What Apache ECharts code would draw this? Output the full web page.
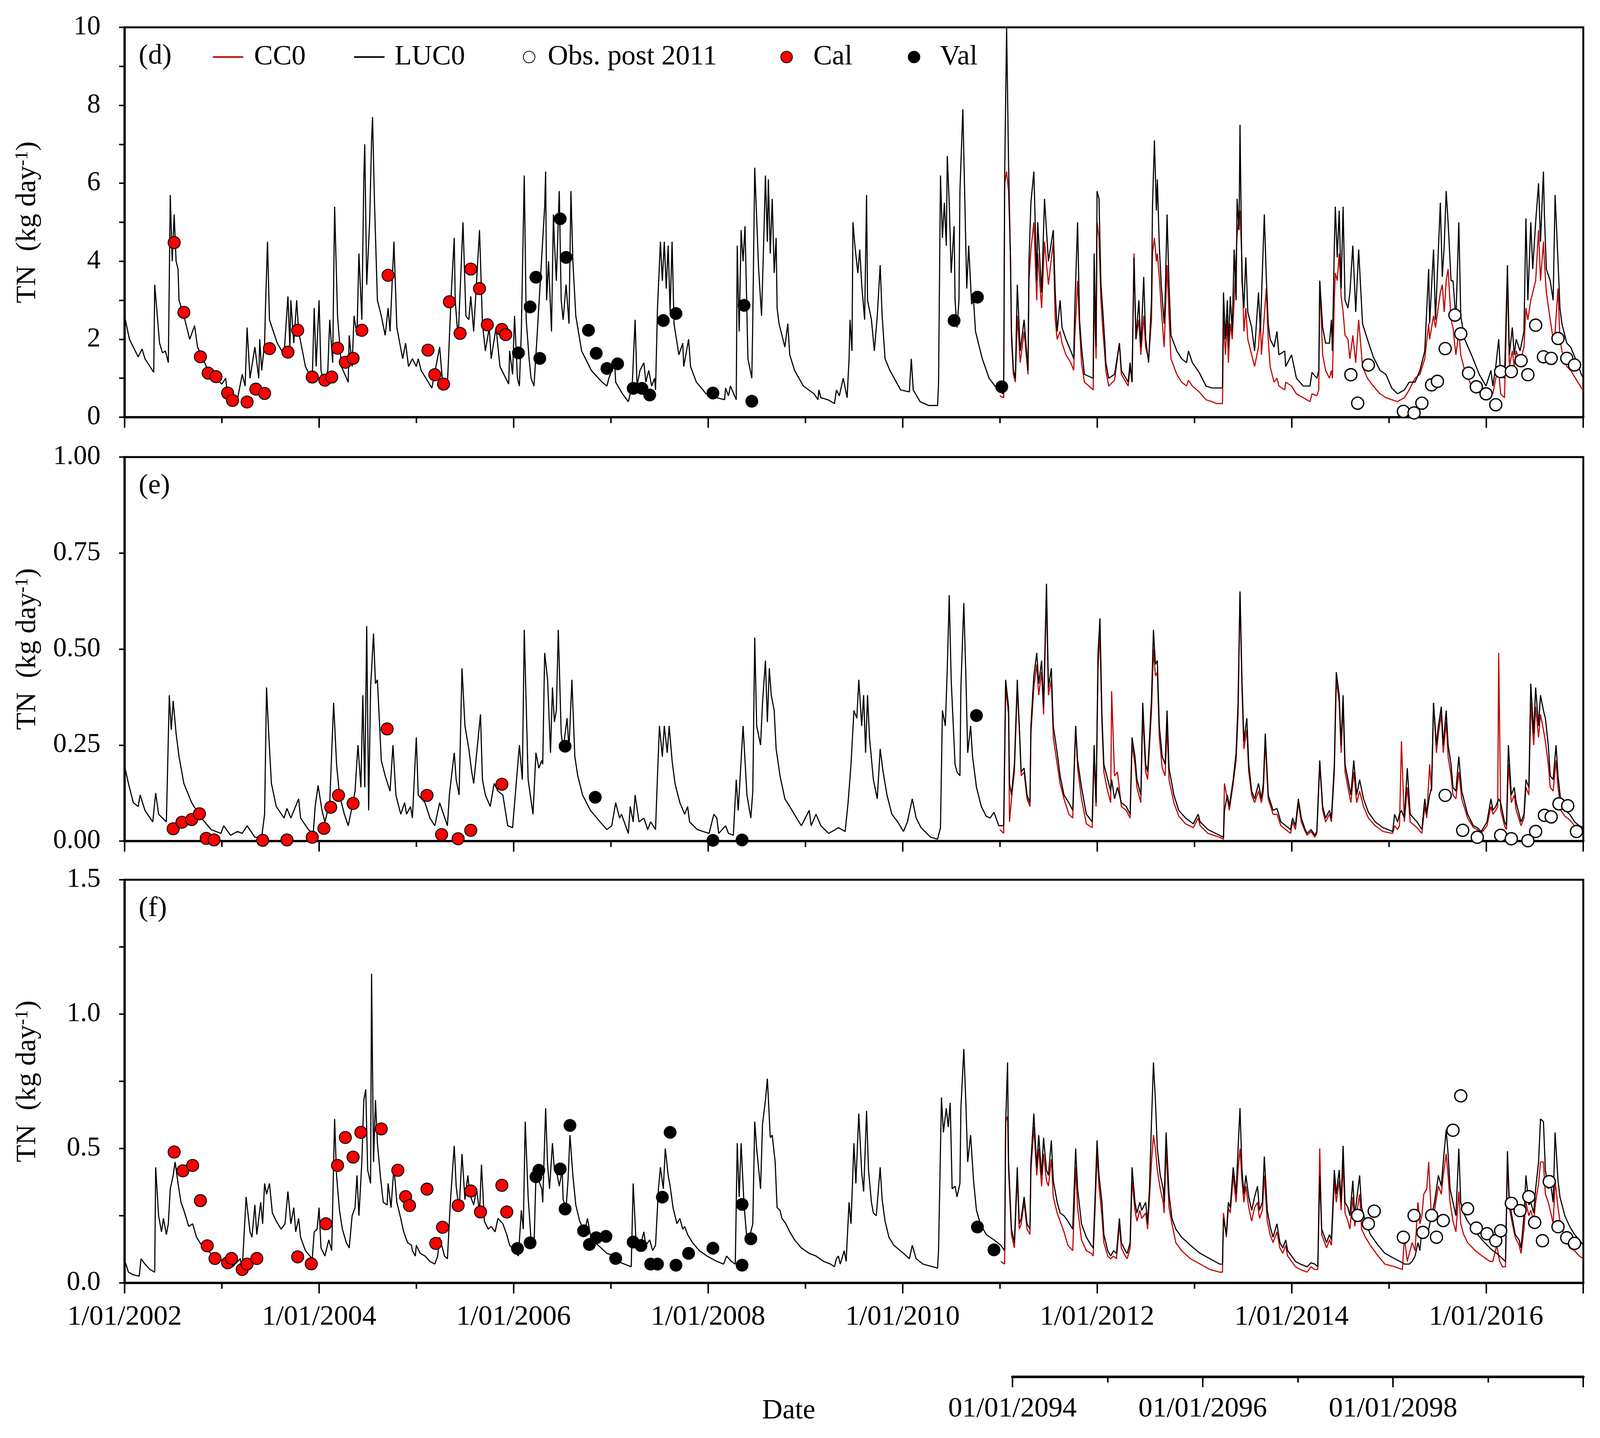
<!DOCTYPE html>
<html>
<head>
<meta charset="utf-8">
<title>TN load</title>
<script src="https://cdn.jsdelivr.net/npm/echarts@6.0.0/dist/echarts.min.js"></script>
<style>
*{ margin:0; padding:0; }
html, body{ width:100%; height:100%; overflow:hidden; background:#fff; }
#chart{ width:100vw; height:100vh; }
</style>
</head>
<body>
<div id="chart"></div>
<script>
// [decimal year, TN kg/day]
// panel (d)
var lucD = [[2002.00,2.6],[2002.05,2.0],[2002.14,1.55],[2002.18,1.75],[2002.21,1.5],[2002.30,1.15],[2002.31,3.4],[2002.36,1.9],[2002.39,1.65],[2002.42,1.7],[2002.45,1.4],[2002.47,5.7],[2002.49,4.0],[2002.51,5.2],[2002.53,4.0],[2002.55,3.8],[2002.56,3.0],[2002.61,2.6],[2002.67,2.0],[2002.72,2.35],[2002.75,1.8],[2002.86,1.2],[2003.00,0.85],[2003.04,1.0],[2003.05,0.75],[2003.16,0.45],[2003.21,1.1],[2003.24,0.8],[2003.26,2.3],[2003.29,1.0],[2003.34,1.8],[2003.38,1.0],[2003.39,2.0],[2003.41,1.2],[2003.44,1.9],[2003.45,2.9],[2003.47,4.5],[2003.49,2.5],[2003.57,1.9],[2003.64,1.6],[2003.68,3.1],[2003.70,1.8],[2003.71,3.0],[2003.74,1.9],[2003.77,3.0],[2003.79,2.2],[2003.86,1.3],[2003.93,0.95],[2003.95,2.8],[2003.97,1.3],[2004.00,3.0],[2004.02,1.2],[2004.05,0.9],[2004.09,1.2],[2004.11,2.5],[2004.14,1.4],[2004.16,5.4],[2004.19,2.6],[2004.23,1.3],[2004.30,0.9],[2004.31,2.1],[2004.34,1.3],[2004.36,2.6],[2004.39,2.1],[2004.41,4.2],[2004.44,2.5],[2004.46,6.1],[2004.47,7.0],[2004.49,3.4],[2004.52,5.0],[2004.54,7.1],[2004.55,7.7],[2004.57,5.5],[2004.60,3.0],[2004.64,2.6],[2004.68,2.1],[2004.71,2.8],[2004.73,2.2],[2004.77,4.5],[2004.80,2.3],[2004.86,1.5],[2004.89,1.9],[2004.92,1.3],[2004.96,1.5],[2005.00,1.3],[2005.02,1.5],[2005.05,1.2],[2005.16,0.75],[2005.24,1.8],[2005.27,0.9],[2005.32,0.85],[2005.36,3.2],[2005.39,4.6],[2005.40,3.0],[2005.43,2.0],[2005.48,5.0],[2005.51,2.6],[2005.54,2.5],[2005.56,3.1],[2005.59,2.2],[2005.65,4.8],[2005.68,2.4],[2005.71,1.7],[2005.75,2.3],[2005.77,1.5],[2005.82,2.3],[2005.86,1.3],[2005.95,0.85],[2005.96,1.7],[2005.99,1.1],[2006.01,2.6],[2006.04,1.0],[2006.06,0.8],[2006.08,2.2],[2006.11,6.2],[2006.13,2.5],[2006.16,1.5],[2006.18,1.0],[2006.21,0.8],[2006.24,2.0],[2006.32,5.4],[2006.33,6.3],[2006.34,3.0],[2006.36,4.0],[2006.39,2.2],[2006.41,5.2],[2006.42,4.5],[2006.44,3.5],[2006.47,5.8],[2006.49,3.0],[2006.51,2.5],[2006.54,3.4],[2006.57,2.4],[2006.59,5.8],[2006.61,4.0],[2006.64,2.6],[2006.70,1.7],[2006.80,1.2],[2006.91,0.9],[2006.96,0.8],[2006.98,1.0],[2007.04,1.4],[2007.05,0.9],[2007.12,0.6],[2007.18,0.4],[2007.22,0.8],[2007.25,2.5],[2007.27,0.8],[2007.30,1.2],[2007.34,1.4],[2007.36,0.9],[2007.39,1.2],[2007.42,0.8],[2007.45,1.0],[2007.46,0.7],[2007.48,2.8],[2007.51,4.5],[2007.53,3.5],[2007.55,4.5],[2007.57,3.3],[2007.59,4.4],[2007.61,2.7],[2007.63,4.5],[2007.65,2.4],[2007.70,1.6],[2007.74,1.9],[2007.75,1.3],[2007.80,2.0],[2007.82,1.3],[2007.88,0.9],[2007.98,0.6],[2008.09,0.5],[2008.17,0.45],[2008.18,0.75],[2008.21,0.55],[2008.23,0.8],[2008.29,0.45],[2008.30,4.4],[2008.32,2.2],[2008.34,4.8],[2008.36,4.0],[2008.38,4.9],[2008.41,1.5],[2008.45,1.0],[2008.46,2.5],[2008.48,6.4],[2008.52,3.8],[2008.55,2.6],[2008.57,4.3],[2008.59,6.2],[2008.61,4.5],[2008.62,6.1],[2008.64,4.2],[2008.66,5.6],[2008.68,3.7],[2008.70,4.6],[2008.71,2.8],[2008.73,2.4],[2008.77,2.0],[2008.79,1.8],[2008.82,2.4],[2008.84,1.6],[2008.89,1.2],[2008.98,0.8],[2009.09,0.6],[2009.13,0.45],[2009.14,0.7],[2009.16,0.5],[2009.23,0.45],[2009.30,0.35],[2009.32,0.7],[2009.35,0.55],[2009.39,1.0],[2009.43,0.5],[2009.45,1.5],[2009.46,2.5],[2009.48,1.7],[2009.49,5.0],[2009.51,4.4],[2009.54,3.7],[2009.56,4.3],[2009.58,3.4],[2009.61,2.5],[2009.63,5.7],[2009.64,3.0],[2009.68,2.5],[2009.71,1.7],[2009.74,2.6],[2009.77,3.9],[2009.79,2.6],[2009.82,1.5],[2009.87,1.2],[2009.98,0.7],[2010.07,0.65],[2010.09,1.5],[2010.11,0.7],[2010.18,0.4],[2010.27,0.3],[2010.36,0.3],[2010.37,0.85],[2010.39,6.2],[2010.41,4.6],[2010.43,5.5],[2010.45,4.4],[2010.46,6.7],[2010.48,5.5],[2010.50,3.7],[2010.53,4.9],[2010.54,3.0],[2010.56,2.3],[2010.58,3.0],[2010.59,5.8],[2010.62,7.9],[2010.64,5.6],[2010.66,3.3],[2010.68,4.4],[2010.71,2.9],[2010.73,3.0],[2010.75,2.2],[2010.82,1.5],[2010.89,1.0],[2010.95,0.8],[2011.00,0.65],[2011.04,0.6],[2011.05,6.2],[2011.07,10],[2011.09,6.5],[2011.11,4.0],[2011.12,2.2],[2011.14,1.2],[2011.16,1.0],[2011.18,3.4],[2011.21,1.7],[2011.25,2.5],[2011.29,1.2],[2011.30,4.0],[2011.32,5.5],[2011.35,6.3],[2011.38,3.5],[2011.39,5.0],[2011.43,3.2],[2011.46,5.6],[2011.50,4.0],[2011.55,4.8],[2011.57,3.2],[2011.59,2.2],[2011.62,3.0],[2011.64,2.3],[2011.68,2.0],[2011.73,1.7],[2011.76,1.5],[2011.77,2.7],[2011.80,5.0],[2011.82,2.5],[2011.84,1.8],[2011.87,1.1],[2011.96,1.0],[2011.97,4.2],[2011.99,1.8],[2012.00,5.8],[2012.02,5.6],[2012.04,3.4],[2012.06,2.7],[2012.08,1.9],[2012.09,1.4],[2012.12,1.0],[2012.18,1.1],[2012.23,1.9],[2012.25,1.2],[2012.32,0.9],[2012.34,1.4],[2012.36,0.9],[2012.38,4.1],[2012.40,2.0],[2012.43,3.0],[2012.45,1.8],[2012.48,3.6],[2012.50,2.0],[2012.53,1.4],[2012.56,3.0],[2012.57,5.4],[2012.59,7.1],[2012.61,5.3],[2012.62,6.1],[2012.64,4.4],[2012.66,3.4],[2012.69,2.4],[2012.70,3.0],[2012.72,5.2],[2012.74,3.4],[2012.76,2.1],[2012.82,1.7],[2012.87,1.5],[2012.92,1.4],[2012.94,1.7],[2012.98,1.4],[2013.05,1.15],[2013.12,0.8],[2013.18,0.75],[2013.29,0.75],[2013.30,3.2],[2013.32,2.0],[2013.34,3.0],[2013.35,1.8],[2013.37,3.1],[2013.39,2.2],[2013.41,4.3],[2013.43,3.0],[2013.44,5.6],[2013.46,4.8],[2013.47,7.5],[2013.49,3.5],[2013.51,2.8],[2013.53,4.1],[2013.55,2.7],[2013.59,2.3],[2013.62,1.7],[2013.66,3.2],[2013.68,2.2],[2013.69,3.0],[2013.72,5.2],[2013.74,3.6],[2013.76,2.4],[2013.78,2.0],[2013.82,1.8],[2013.85,2.2],[2013.87,1.6],[2013.93,1.7],[2013.94,1.3],[2014.00,1.6],[2014.05,1.0],[2014.12,0.8],[2014.19,0.8],[2014.21,1.15],[2014.26,1.0],[2014.28,1.2],[2014.29,3.5],[2014.32,2.3],[2014.35,1.9],[2014.39,1.9],[2014.41,2.5],[2014.42,1.7],[2014.44,4.4],[2014.45,5.4],[2014.47,4.1],[2014.49,5.3],[2014.51,3.3],[2014.53,5.4],[2014.55,3.0],[2014.58,2.8],[2014.60,3.2],[2014.63,4.4],[2014.66,2.7],[2014.69,4.3],[2014.73,2.4],[2014.78,2.0],[2014.84,1.55],[2014.91,1.2],[2014.97,1.1],[2015.03,0.75],[2015.09,0.6],[2015.16,0.7],[2015.21,0.9],[2015.27,0.9],[2015.32,1.2],[2015.37,1.7],[2015.41,3.8],[2015.42,2.4],[2015.46,4.3],[2015.48,2.5],[2015.53,5.5],[2015.55,3.6],[2015.57,4.4],[2015.59,5.8],[2015.61,5.0],[2015.64,3.5],[2015.66,3.5],[2015.69,2.5],[2015.72,5.0],[2015.74,2.6],[2015.78,2.0],[2015.85,1.6],[2015.93,1.1],[2016.00,0.8],[2016.05,1.2],[2016.07,0.8],[2016.10,1.3],[2016.13,2.0],[2016.15,1.1],[2016.19,1.0],[2016.22,3.9],[2016.24,1.6],[2016.27,2.3],[2016.29,1.6],[2016.31,2.0],[2016.35,1.7],[2016.39,2.2],[2016.41,5.1],[2016.43,3.0],[2016.46,5.0],[2016.48,3.8],[2016.51,5.0],[2016.54,6.0],[2016.56,4.5],[2016.59,6.3],[2016.60,5.2],[2016.62,3.8],[2016.66,3.5],[2016.69,3.0],[2016.71,5.7],[2016.74,4.0],[2016.76,2.8],[2016.78,2.4],[2016.83,1.9],[2016.87,1.8],[2016.92,1.5],[2016.98,1.1],[2017.00,1.0]];
var ccD = [[2011.00,0.55],[2011.04,0.5],[2011.05,6.0],[2011.07,6.3],[2011.09,5.8],[2011.11,4.1],[2011.12,2.0],[2011.14,1.1],[2011.16,0.9],[2011.18,2.6],[2011.21,1.4],[2011.25,2.2],[2011.29,1.1],[2011.30,3.5],[2011.32,4.3],[2011.35,5.0],[2011.38,3.0],[2011.39,4.2],[2011.43,2.8],[2011.46,4.5],[2011.50,3.4],[2011.55,4.5],[2011.57,2.5],[2011.59,2.0],[2011.62,2.2],[2011.64,1.9],[2011.68,1.6],[2011.73,1.4],[2011.76,1.2],[2011.77,2.0],[2011.80,3.5],[2011.82,2.3],[2011.84,1.4],[2011.87,0.9],[2011.96,0.7],[2011.97,3.2],[2011.99,1.5],[2012.00,5.0],[2012.02,4.6],[2012.04,3.0],[2012.06,2.2],[2012.08,1.6],[2012.09,1.2],[2012.12,0.8],[2012.18,0.95],[2012.23,1.9],[2012.25,1.1],[2012.32,0.8],[2012.34,1.3],[2012.36,0.9],[2012.38,4.2],[2012.40,2.0],[2012.43,2.5],[2012.45,1.6],[2012.48,2.6],[2012.50,1.8],[2012.53,1.5],[2012.56,2.5],[2012.57,4.2],[2012.59,4.6],[2012.61,4.0],[2012.62,4.2],[2012.64,3.6],[2012.66,2.8],[2012.69,1.8],[2012.72,3.9],[2012.74,2.6],[2012.76,1.5],[2012.82,1.1],[2012.87,0.9],[2012.92,0.8],[2012.94,0.95],[2012.98,0.8],[2013.05,0.65],[2013.12,0.45],[2013.18,0.4],[2013.23,0.35],[2013.29,0.35],[2013.30,2.5],[2013.32,1.6],[2013.34,2.5],[2013.35,1.4],[2013.37,2.4],[2013.39,2.0],[2013.41,3.0],[2013.44,4.7],[2013.47,5.3],[2013.49,4.0],[2013.51,2.2],[2013.53,2.8],[2013.55,2.0],[2013.59,1.6],[2013.62,1.3],[2013.66,1.8],[2013.68,2.5],[2013.69,1.6],[2013.72,2.6],[2013.74,3.3],[2013.76,2.0],[2013.78,1.3],[2013.82,0.9],[2013.85,1.0],[2013.87,0.8],[2013.93,0.7],[2013.94,0.9],[2014.00,0.8],[2014.05,0.6],[2014.12,0.5],[2014.19,0.4],[2014.21,0.6],[2014.26,0.55],[2014.28,0.7],[2014.29,3.5],[2014.32,1.6],[2014.35,1.2],[2014.39,1.0],[2014.41,1.2],[2014.42,1.0],[2014.44,3.0],[2014.45,3.7],[2014.47,3.5],[2014.49,4.2],[2014.51,3.1],[2014.53,2.7],[2014.55,2.1],[2014.58,2.0],[2014.60,1.5],[2014.63,2.1],[2014.66,1.4],[2014.69,2.5],[2014.73,1.3],[2014.78,1.0],[2014.84,0.8],[2014.91,0.6],[2014.97,0.5],[2015.03,0.45],[2015.09,0.4],[2015.16,0.5],[2015.21,0.7],[2015.27,1.0],[2015.32,1.1],[2015.37,1.5],[2015.41,2.4],[2015.42,2.0],[2015.46,2.6],[2015.48,2.3],[2015.53,3.2],[2015.55,3.4],[2015.57,2.7],[2015.59,3.5],[2015.61,3.8],[2015.64,2.5],[2015.66,2.3],[2015.69,1.6],[2015.72,2.2],[2015.74,1.6],[2015.78,1.2],[2015.85,0.8],[2015.93,0.65],[2016.00,0.6],[2016.05,0.7],[2016.07,0.6],[2016.10,1.0],[2016.13,1.2],[2016.15,0.6],[2016.19,0.5],[2016.22,3.6],[2016.24,1.3],[2016.27,1.7],[2016.29,1.3],[2016.31,1.7],[2016.35,1.4],[2016.39,1.8],[2016.41,2.8],[2016.43,2.5],[2016.46,3.0],[2016.48,3.2],[2016.51,3.5],[2016.54,4.8],[2016.56,3.5],[2016.59,4.5],[2016.60,4.0],[2016.62,3.2],[2016.66,2.5],[2016.69,2.0],[2016.71,2.2],[2016.74,3.3],[2016.76,2.0],[2016.78,1.7],[2016.83,1.3],[2016.87,1.2],[2016.92,1.0],[2016.98,0.75],[2017.00,0.7]];
var obsD = [[2014.61,1.09],[2014.68,0.36],[2014.79,1.34],[2015.15,0.15],[2015.26,0.11],[2015.34,0.36],[2015.44,0.83],[2015.50,0.92],[2015.58,1.76],[2015.68,2.62],[2015.74,2.14],[2015.82,1.13],[2015.90,0.78],[2016.00,0.60],[2016.10,0.32],[2016.15,1.17],[2016.26,1.17],[2016.36,1.45],[2016.43,1.09],[2016.51,2.36],[2016.59,1.55],[2016.67,1.51],[2016.74,2.02],[2016.83,1.51],[2016.91,1.34]];
var calD = [[2002.51,4.48],[2002.61,2.69],[2002.78,1.55],[2002.86,1.13],[2002.94,1.04],[2003.06,0.62],[2003.11,0.43],[2003.26,0.39],[2003.35,0.72],[2003.44,0.61],[2003.49,1.76],[2003.68,1.67],[2003.78,2.23],[2003.93,1.03],[2004.06,0.95],[2004.13,1.03],[2004.19,1.77],[2004.27,1.41],[2004.35,1.51],[2004.44,2.23],[2004.71,3.64],[2005.12,1.72],[2005.19,1.09],[2005.28,0.85],[2005.34,2.96],[2005.45,2.15],[2005.56,3.80],[2005.65,3.30],[2005.73,2.37],[2005.88,2.25],[2005.92,2.12]];
var valD = [[2006.05,1.65],[2006.17,2.83],[2006.23,3.59],[2006.27,1.51],[2006.48,5.09],[2006.54,4.10],[2006.77,2.23],[2006.85,1.64],[2006.96,1.25],[2007.07,1.37],[2007.23,0.74],[2007.32,0.74],[2007.40,0.57],[2007.54,2.48],[2007.67,2.66],[2008.05,0.62],[2008.37,2.87],[2008.45,0.41],[2010.53,2.48],[2010.77,3.08],[2011.02,0.78]];

// panel (e)
var lucE = [[2002.00,0.196],[2002.04,0.15],[2002.09,0.10],[2002.14,0.09],[2002.16,0.12],[2002.21,0.08],[2002.29,0.05],[2002.32,0.125],[2002.35,0.07],[2002.43,0.05],[2002.46,0.38],[2002.48,0.29],[2002.50,0.365],[2002.53,0.28],[2002.56,0.22],[2002.61,0.15],[2002.69,0.10],[2002.74,0.08],[2002.79,0.06],[2002.89,0.03],[2002.99,0.02],[2003.02,0.04],[2003.09,0.015],[2003.16,0.025],[2003.21,0.02],[2003.26,0.04],[2003.34,0.01],[2003.41,0.01],[2003.44,0.07],[2003.46,0.40],[2003.48,0.29],[2003.51,0.15],[2003.56,0.09],[2003.64,0.06],[2003.67,0.085],[2003.71,0.06],[2003.75,0.085],[2003.79,0.11],[2003.81,0.06],[2003.89,0.03],[2003.94,0.02],[2003.96,0.09],[2003.99,0.145],[2004.03,0.08],[2004.06,0.05],[2004.11,0.10],[2004.15,0.36],[2004.18,0.20],[2004.21,0.12],[2004.26,0.07],[2004.30,0.04],[2004.34,0.09],[2004.37,0.13],[2004.40,0.25],[2004.43,0.14],[2004.45,0.38],[2004.47,0.14],[2004.49,0.56],[2004.51,0.08],[2004.53,0.40],[2004.56,0.54],[2004.58,0.41],[2004.60,0.42],[2004.64,0.21],[2004.68,0.17],[2004.73,0.13],[2004.76,0.25],[2004.79,0.12],[2004.84,0.07],[2004.88,0.10],[2004.90,0.07],[2004.94,0.09],[2004.96,0.06],[2005.00,0.27],[2005.02,0.12],[2005.09,0.10],[2005.14,0.06],[2005.19,0.04],[2005.24,0.10],[2005.28,0.07],[2005.32,0.04],[2005.34,0.12],[2005.39,0.23],[2005.41,0.16],[2005.44,0.12],[2005.47,0.45],[2005.50,0.30],[2005.54,0.24],[2005.57,0.18],[2005.59,0.15],[2005.66,0.33],[2005.68,0.16],[2005.71,0.12],[2005.76,0.09],[2005.80,0.15],[2005.84,0.13],[2005.89,0.12],[2005.94,0.04],[2005.99,0.035],[2006.06,0.25],[2006.09,0.16],[2006.11,0.55],[2006.15,0.16],[2006.20,0.07],[2006.23,0.23],[2006.26,0.19],[2006.29,0.21],[2006.30,0.20],[2006.32,0.49],[2006.35,0.42],[2006.38,0.23],[2006.40,0.40],[2006.42,0.31],[2006.44,0.34],[2006.46,0.55],[2006.49,0.28],[2006.51,0.24],[2006.55,0.32],[2006.57,0.24],[2006.60,0.42],[2006.63,0.22],[2006.66,0.17],[2006.71,0.12],[2006.79,0.08],[2006.89,0.05],[2006.96,0.03],[2007.01,0.04],[2007.05,0.10],[2007.09,0.06],[2007.11,0.07],[2007.18,0.02],[2007.20,0.09],[2007.23,0.05],[2007.25,0.12],[2007.29,0.05],[2007.34,0.06],[2007.38,0.03],[2007.41,0.05],[2007.46,0.03],[2007.48,0.17],[2007.50,0.30],[2007.53,0.22],[2007.55,0.30],[2007.58,0.23],[2007.60,0.30],[2007.63,0.21],[2007.66,0.15],[2007.71,0.10],[2007.76,0.07],[2007.79,0.09],[2007.81,0.05],[2007.89,0.03],[2008.01,0.02],[2008.06,0.07],[2008.09,0.06],[2008.11,0.02],[2008.18,0.04],[2008.21,0.02],[2008.26,0.015],[2008.29,0.16],[2008.31,0.08],[2008.34,0.21],[2008.36,0.30],[2008.40,0.12],[2008.44,0.06],[2008.46,0.13],[2008.48,0.53],[2008.50,0.30],[2008.54,0.25],[2008.56,0.36],[2008.59,0.47],[2008.61,0.31],[2008.63,0.45],[2008.65,0.38],[2008.68,0.34],[2008.70,0.24],[2008.74,0.17],[2008.79,0.11],[2008.84,0.09],[2008.91,0.06],[2008.96,0.04],[2009.04,0.08],[2009.06,0.04],[2009.11,0.07],[2009.16,0.04],[2009.24,0.02],[2009.31,0.03],[2009.34,0.035],[2009.41,0.025],[2009.44,0.10],[2009.47,0.20],[2009.50,0.34],[2009.53,0.32],[2009.55,0.42],[2009.58,0.30],[2009.60,0.38],[2009.62,0.23],[2009.64,0.38],[2009.66,0.27],[2009.70,0.16],[2009.74,0.11],[2009.77,0.24],[2009.80,0.18],[2009.84,0.12],[2009.89,0.07],[2009.95,0.05],[2010.01,0.025],[2010.05,0.05],[2010.10,0.11],[2010.14,0.06],[2010.19,0.035],[2010.29,0.01],[2010.36,0.005],[2010.39,0.035],[2010.41,0.34],[2010.44,0.30],[2010.46,0.45],[2010.48,0.64],[2010.50,0.42],[2010.54,0.20],[2010.56,0.18],[2010.59,0.17],[2010.60,0.40],[2010.63,0.62],[2010.65,0.44],[2010.67,0.23],[2010.70,0.30],[2010.72,0.22],[2010.76,0.14],[2010.81,0.09],[2010.86,0.065],[2010.90,0.06],[2010.94,0.075],[2010.99,0.04],[2011.04,0.04],[2011.06,0.42],[2011.09,0.35],[2011.10,0.15],[2011.12,0.12],[2011.15,0.20],[2011.18,0.42],[2011.20,0.30],[2011.22,0.18],[2011.25,0.19],[2011.28,0.12],[2011.31,0.10],[2011.32,0.30],[2011.35,0.43],[2011.38,0.49],[2011.40,0.41],[2011.43,0.47],[2011.45,0.35],[2011.48,0.67],[2011.50,0.40],[2011.53,0.45],[2011.55,0.30],[2011.59,0.23],[2011.62,0.17],[2011.66,0.12],[2011.71,0.10],[2011.75,0.08],[2011.78,0.30],[2011.80,0.21],[2011.84,0.14],[2011.89,0.07],[2011.95,0.05],[2011.97,0.25],[2011.99,0.10],[2012.01,0.49],[2012.03,0.58],[2012.05,0.33],[2012.07,0.20],[2012.10,0.17],[2012.14,0.13],[2012.15,0.16],[2012.18,0.11],[2012.21,0.14],[2012.25,0.10],[2012.30,0.09],[2012.34,0.07],[2012.36,0.27],[2012.39,0.22],[2012.41,0.16],[2012.45,0.12],[2012.47,0.36],[2012.50,0.20],[2012.52,0.18],[2012.54,0.27],[2012.56,0.37],[2012.58,0.55],[2012.60,0.46],[2012.62,0.47],[2012.64,0.30],[2012.67,0.22],[2012.70,0.20],[2012.72,0.34],[2012.74,0.19],[2012.79,0.12],[2012.84,0.08],[2012.91,0.06],[2012.99,0.045],[2013.04,0.07],[2013.06,0.05],[2013.14,0.03],[2013.26,0.015],[2013.30,0.01],[2013.31,0.08],[2013.34,0.12],[2013.36,0.09],[2013.40,0.16],[2013.43,0.23],[2013.45,0.36],[2013.47,0.65],[2013.49,0.42],[2013.51,0.26],[2013.54,0.32],[2013.56,0.20],[2013.59,0.13],[2013.62,0.11],[2013.66,0.15],[2013.69,0.11],[2013.71,0.15],[2013.73,0.28],[2013.76,0.12],[2013.81,0.08],[2013.85,0.085],[2013.89,0.05],[2013.94,0.04],[2013.99,0.03],[2014.01,0.06],[2014.04,0.04],[2014.07,0.11],[2014.10,0.06],[2014.14,0.03],[2014.16,0.02],[2014.20,0.03],[2014.24,0.015],[2014.26,0.025],[2014.29,0.21],[2014.32,0.09],[2014.35,0.06],[2014.39,0.08],[2014.41,0.06],[2014.44,0.20],[2014.46,0.44],[2014.49,0.38],[2014.51,0.25],[2014.53,0.38],[2014.55,0.20],[2014.58,0.16],[2014.61,0.12],[2014.64,0.21],[2014.67,0.12],[2014.70,0.16],[2014.74,0.11],[2014.79,0.075],[2014.86,0.05],[2014.94,0.035],[2015.04,0.025],[2015.06,0.07],[2015.09,0.05],[2015.11,0.07],[2015.13,0.08],[2015.16,0.06],[2015.19,0.19],[2015.22,0.07],[2015.29,0.05],[2015.34,0.03],[2015.37,0.11],[2015.39,0.07],[2015.42,0.12],[2015.44,0.14],[2015.46,0.36],[2015.49,0.25],[2015.51,0.30],[2015.54,0.35],[2015.56,0.25],[2015.59,0.34],[2015.61,0.25],[2015.64,0.20],[2015.66,0.14],[2015.69,0.13],[2015.72,0.22],[2015.75,0.13],[2015.81,0.07],[2015.87,0.04],[2015.91,0.035],[2015.95,0.025],[2016.01,0.05],[2016.05,0.11],[2016.07,0.08],[2016.10,0.09],[2016.13,0.11],[2016.15,0.10],[2016.19,0.05],[2016.21,0.04],[2016.23,0.25],[2016.26,0.12],[2016.29,0.14],[2016.31,0.10],[2016.36,0.05],[2016.39,0.07],[2016.41,0.16],[2016.44,0.14],[2016.46,0.41],[2016.49,0.28],[2016.51,0.40],[2016.54,0.30],[2016.56,0.38],[2016.59,0.34],[2016.61,0.32],[2016.64,0.25],[2016.66,0.17],[2016.69,0.16],[2016.72,0.25],[2016.74,0.17],[2016.77,0.10],[2016.81,0.08],[2016.86,0.07],[2016.91,0.05],[2016.96,0.04],[2017.00,0.035]];
var ccE = [[2011.00,0.03],[2011.04,0.02],[2011.06,0.40],[2011.09,0.33],[2011.10,0.05],[2011.12,0.11],[2011.15,0.18],[2011.18,0.40],[2011.20,0.30],[2011.22,0.17],[2011.25,0.18],[2011.28,0.11],[2011.31,0.09],[2011.32,0.28],[2011.35,0.40],[2011.38,0.46],[2011.40,0.38],[2011.43,0.44],[2011.45,0.33],[2011.48,0.64],[2011.50,0.38],[2011.53,0.42],[2011.55,0.27],[2011.59,0.20],[2011.62,0.15],[2011.66,0.11],[2011.71,0.07],[2011.75,0.06],[2011.78,0.30],[2011.80,0.19],[2011.84,0.11],[2011.89,0.045],[2011.95,0.035],[2011.97,0.22],[2011.99,0.09],[2012.01,0.45],[2012.03,0.54],[2012.05,0.31],[2012.07,0.18],[2012.10,0.14],[2012.14,0.10],[2012.15,0.39],[2012.18,0.17],[2012.21,0.18],[2012.25,0.09],[2012.30,0.08],[2012.34,0.06],[2012.36,0.25],[2012.39,0.20],[2012.41,0.14],[2012.45,0.10],[2012.47,0.33],[2012.50,0.18],[2012.52,0.16],[2012.54,0.25],[2012.56,0.34],[2012.58,0.50],[2012.60,0.43],[2012.62,0.44],[2012.64,0.27],[2012.67,0.19],[2012.70,0.17],[2012.72,0.30],[2012.74,0.16],[2012.79,0.10],[2012.84,0.065],[2012.91,0.045],[2012.99,0.035],[2013.04,0.06],[2013.06,0.04],[2013.14,0.02],[2013.26,0.01],[2013.30,0.005],[2013.31,0.15],[2013.34,0.11],[2013.36,0.08],[2013.40,0.15],[2013.43,0.21],[2013.45,0.33],[2013.47,0.65],[2013.49,0.40],[2013.51,0.24],[2013.54,0.29],[2013.56,0.18],[2013.59,0.12],[2013.62,0.10],[2013.66,0.13],[2013.69,0.10],[2013.71,0.13],[2013.73,0.26],[2013.76,0.11],[2013.81,0.07],[2013.85,0.07],[2013.89,0.04],[2013.94,0.03],[2013.99,0.02],[2014.01,0.05],[2014.04,0.03],[2014.07,0.10],[2014.10,0.05],[2014.14,0.025],[2014.16,0.015],[2014.20,0.025],[2014.24,0.01],[2014.26,0.02],[2014.29,0.20],[2014.32,0.08],[2014.35,0.05],[2014.39,0.07],[2014.41,0.05],[2014.44,0.18],[2014.46,0.42],[2014.49,0.36],[2014.51,0.23],[2014.53,0.36],[2014.55,0.18],[2014.58,0.14],[2014.61,0.10],[2014.64,0.18],[2014.67,0.10],[2014.70,0.13],[2014.74,0.09],[2014.79,0.06],[2014.86,0.04],[2014.94,0.025],[2015.04,0.02],[2015.06,0.04],[2015.09,0.03],[2015.11,0.04],[2015.13,0.26],[2015.16,0.05],[2015.19,0.14],[2015.22,0.05],[2015.29,0.035],[2015.34,0.02],[2015.37,0.09],[2015.39,0.06],[2015.42,0.20],[2015.44,0.13],[2015.46,0.36],[2015.49,0.23],[2015.51,0.28],[2015.54,0.33],[2015.56,0.23],[2015.59,0.31],[2015.61,0.22],[2015.64,0.17],[2015.66,0.12],[2015.69,0.11],[2015.72,0.18],[2015.75,0.11],[2015.81,0.06],[2015.87,0.035],[2015.91,0.03],[2015.95,0.02],[2016.01,0.04],[2016.05,0.09],[2016.07,0.07],[2016.10,0.08],[2016.12,0.09],[2016.13,0.49],[2016.15,0.08],[2016.19,0.04],[2016.21,0.03],[2016.23,0.20],[2016.26,0.10],[2016.29,0.12],[2016.31,0.08],[2016.36,0.04],[2016.39,0.06],[2016.41,0.14],[2016.44,0.12],[2016.46,0.36],[2016.49,0.25],[2016.51,0.35],[2016.54,0.27],[2016.56,0.33],[2016.59,0.29],[2016.61,0.26],[2016.64,0.20],[2016.66,0.14],[2016.69,0.13],[2016.72,0.21],[2016.74,0.14],[2016.77,0.08],[2016.81,0.065],[2016.86,0.055],[2016.91,0.04],[2016.96,0.03],[2017.00,0.03]];
var obsE = [[2015.58,0.119],[2015.76,0.028],[2015.91,0.010],[2016.15,0.015],[2016.26,0.006],[2016.43,0.001],[2016.51,0.025],[2016.60,0.067],[2016.67,0.063],[2016.75,0.097],[2016.84,0.092],[2016.93,0.025]];
var calE = [[2002.50,0.032],[2002.59,0.049],[2002.69,0.056],[2002.77,0.071],[2002.84,0.007],[2002.92,0.003],[2003.42,0.002],[2003.67,0.003],[2003.93,0.010],[2004.05,0.033],[2004.12,0.088],[2004.20,0.119],[2004.35,0.098],[2004.70,0.292],[2005.11,0.119],[2005.26,0.017],[2005.43,0.006],[2005.56,0.028],[2005.88,0.148]];
var valE = [[2006.53,0.247],[2006.84,0.114],[2008.05,0.002],[2008.35,0.003],[2010.76,0.327]];

// panel (f)
var lucF = [[2002.00,0.085],[2002.04,0.04],[2002.09,0.03],[2002.15,0.025],[2002.17,0.09],[2002.21,0.07],[2002.26,0.05],[2002.31,0.04],[2002.32,0.43],[2002.35,0.25],[2002.38,0.19],[2002.40,0.24],[2002.43,0.18],[2002.45,0.22],[2002.47,0.35],[2002.50,0.40],[2002.52,0.45],[2002.55,0.37],[2002.58,0.30],[2002.61,0.27],[2002.66,0.21],[2002.70,0.22],[2002.74,0.17],[2002.81,0.13],[2002.89,0.11],[2002.96,0.09],[2003.04,0.08],[2003.11,0.06],[2003.19,0.09],[2003.21,0.05],[2003.25,0.32],[2003.29,0.19],[2003.31,0.17],[2003.34,0.29],[2003.36,0.18],[2003.40,0.30],[2003.42,0.22],[2003.44,0.37],[2003.46,0.33],[2003.49,0.37],[2003.52,0.26],[2003.56,0.23],[2003.61,0.20],[2003.65,0.22],[2003.68,0.34],[2003.71,0.22],[2003.74,0.28],[2003.76,0.19],[2003.79,0.24],[2003.81,0.17],[2003.86,0.12],[2003.93,0.09],[2003.95,0.19],[2003.98,0.20],[2004.00,0.28],[2004.02,0.13],[2004.06,0.10],[2004.10,0.16],[2004.13,0.12],[2004.16,0.61],[2004.18,0.40],[2004.21,0.27],[2004.24,0.20],[2004.28,0.15],[2004.31,0.13],[2004.34,0.25],[2004.37,0.28],[2004.39,0.40],[2004.41,0.25],[2004.44,0.45],[2004.46,0.68],[2004.48,0.72],[2004.50,0.42],[2004.53,0.37],[2004.54,1.15],[2004.56,0.45],[2004.58,0.68],[2004.60,0.52],[2004.63,0.40],[2004.66,0.30],[2004.70,0.29],[2004.71,0.37],[2004.74,0.28],[2004.77,0.43],[2004.80,0.30],[2004.84,0.24],[2004.87,0.19],[2004.91,0.15],[2004.95,0.14],[2004.96,0.12],[2004.99,0.10],[2005.00,0.14],[2005.04,0.11],[2005.09,0.10],[2005.14,0.08],[2005.19,0.07],[2005.22,0.10],[2005.24,0.17],[2005.29,0.10],[2005.32,0.09],[2005.35,0.30],[2005.39,0.51],[2005.41,0.36],[2005.44,0.27],[2005.47,0.48],[2005.50,0.31],[2005.53,0.40],[2005.55,0.33],[2005.59,0.29],[2005.62,0.35],[2005.65,0.26],[2005.67,0.44],[2005.70,0.23],[2005.74,0.20],[2005.77,0.21],[2005.81,0.19],[2005.84,0.24],[2005.89,0.22],[2005.93,0.18],[2005.96,0.14],[2006.01,0.12],[2006.05,0.10],[2006.08,0.27],[2006.10,0.20],[2006.12,0.60],[2006.15,0.32],[2006.18,0.16],[2006.21,0.13],[2006.23,0.40],[2006.26,0.38],[2006.29,0.35],[2006.30,0.30],[2006.33,0.65],[2006.35,0.44],[2006.37,0.35],[2006.40,0.52],[2006.42,0.42],[2006.45,0.40],[2006.47,0.36],[2006.50,0.42],[2006.51,0.31],[2006.54,0.28],[2006.56,0.38],[2006.58,0.55],[2006.61,0.40],[2006.64,0.29],[2006.68,0.23],[2006.73,0.19],[2006.76,0.24],[2006.79,0.18],[2006.84,0.15],[2006.90,0.13],[2006.96,0.11],[2007.04,0.10],[2007.07,0.08],[2007.14,0.07],[2007.21,0.06],[2007.23,0.37],[2007.26,0.15],[2007.29,0.12],[2007.34,0.19],[2007.36,0.14],[2007.40,0.16],[2007.43,0.12],[2007.46,0.14],[2007.49,0.35],[2007.51,0.43],[2007.54,0.35],[2007.56,0.50],[2007.59,0.40],[2007.61,0.36],[2007.64,0.28],[2007.68,0.22],[2007.71,0.24],[2007.74,0.20],[2007.76,0.21],[2007.79,0.18],[2007.84,0.15],[2007.91,0.12],[2007.99,0.10],[2008.09,0.08],[2008.16,0.07],[2008.19,0.10],[2008.24,0.08],[2008.28,0.07],[2008.30,0.52],[2008.32,0.32],[2008.34,0.52],[2008.37,0.29],[2008.40,0.16],[2008.44,0.19],[2008.46,0.22],[2008.48,0.60],[2008.50,0.50],[2008.54,0.35],[2008.56,0.59],[2008.59,0.68],[2008.61,0.76],[2008.64,0.54],[2008.66,0.55],[2008.69,0.45],[2008.71,0.28],[2008.74,0.27],[2008.76,0.24],[2008.80,0.22],[2008.84,0.19],[2008.89,0.16],[2008.96,0.13],[2009.04,0.11],[2009.11,0.10],[2009.19,0.08],[2009.26,0.07],[2009.30,0.06],[2009.32,0.09],[2009.34,0.10],[2009.36,0.07],[2009.40,0.12],[2009.42,0.08],[2009.45,0.30],[2009.47,0.22],[2009.50,0.52],[2009.52,0.37],[2009.55,0.63],[2009.58,0.41],[2009.60,0.34],[2009.63,0.64],[2009.65,0.42],[2009.68,0.30],[2009.70,0.26],[2009.73,0.25],[2009.75,0.34],[2009.77,0.43],[2009.79,0.31],[2009.82,0.23],[2009.86,0.17],[2009.91,0.14],[2010.01,0.11],[2010.07,0.09],[2010.10,0.14],[2010.14,0.09],[2010.21,0.07],[2010.31,0.06],[2010.36,0.055],[2010.37,0.12],[2010.40,0.69],[2010.42,0.56],[2010.45,0.65],[2010.47,0.58],[2010.49,0.67],[2010.51,0.35],[2010.54,0.36],[2010.56,0.32],[2010.59,0.37],[2010.60,0.65],[2010.63,0.87],[2010.65,0.68],[2010.67,0.45],[2010.70,0.55],[2010.73,0.38],[2010.76,0.27],[2010.80,0.22],[2010.86,0.18],[2010.94,0.16],[2011.01,0.14],[2011.05,0.12],[2011.06,0.59],[2011.08,0.82],[2011.09,0.45],[2011.12,0.20],[2011.15,0.15],[2011.18,0.43],[2011.20,0.22],[2011.22,0.24],[2011.25,0.32],[2011.28,0.22],[2011.31,0.20],[2011.32,0.45],[2011.35,0.63],[2011.38,0.43],[2011.40,0.55],[2011.43,0.40],[2011.45,0.54],[2011.48,0.42],[2011.50,0.40],[2011.53,0.53],[2011.55,0.38],[2011.59,0.30],[2011.62,0.26],[2011.66,0.25],[2011.70,0.23],[2011.75,0.20],[2011.78,0.50],[2011.80,0.35],[2011.84,0.22],[2011.89,0.17],[2011.94,0.14],[2011.96,0.13],[2011.98,0.32],[2012.00,0.53],[2012.02,0.40],[2012.05,0.30],[2012.07,0.18],[2012.11,0.12],[2012.14,0.10],[2012.17,0.12],[2012.20,0.11],[2012.23,0.24],[2012.25,0.15],[2012.29,0.12],[2012.31,0.11],[2012.34,0.15],[2012.36,0.43],[2012.39,0.30],[2012.41,0.26],[2012.44,0.30],[2012.46,0.27],[2012.50,0.30],[2012.52,0.22],[2012.54,0.36],[2012.56,0.60],[2012.58,0.82],[2012.60,0.68],[2012.62,0.50],[2012.65,0.40],[2012.68,0.35],[2012.69,0.30],[2012.71,0.56],[2012.74,0.33],[2012.77,0.24],[2012.81,0.20],[2012.87,0.17],[2012.96,0.14],[2013.06,0.11],[2013.16,0.09],[2013.26,0.07],[2013.29,0.07],[2013.30,0.24],[2013.33,0.18],[2013.35,0.30],[2013.37,0.28],[2013.40,0.43],[2013.43,0.33],[2013.45,0.50],[2013.47,0.65],[2013.49,0.42],[2013.51,0.33],[2013.53,0.40],[2013.56,0.32],[2013.59,0.27],[2013.62,0.32],[2013.65,0.36],[2013.67,0.27],[2013.70,0.30],[2013.72,0.47],[2013.75,0.27],[2013.78,0.21],[2013.81,0.17],[2013.85,0.22],[2013.88,0.15],[2013.91,0.13],[2013.94,0.16],[2013.96,0.12],[2014.00,0.10],[2014.04,0.08],[2014.09,0.07],[2014.16,0.06],[2014.20,0.075],[2014.24,0.07],[2014.27,0.06],[2014.29,0.40],[2014.31,0.20],[2014.34,0.17],[2014.36,0.15],[2014.39,0.18],[2014.41,0.16],[2014.44,0.42],[2014.46,0.33],[2014.49,0.42],[2014.51,0.30],[2014.53,0.51],[2014.55,0.30],[2014.58,0.28],[2014.60,0.25],[2014.63,0.38],[2014.65,0.25],[2014.67,0.31],[2014.70,0.40],[2014.72,0.28],[2014.76,0.23],[2014.81,0.18],[2014.89,0.14],[2014.96,0.11],[2015.06,0.09],[2015.14,0.075],[2015.16,0.07],[2015.21,0.07],[2015.24,0.08],[2015.27,0.10],[2015.30,0.15],[2015.32,0.12],[2015.34,0.20],[2015.36,0.18],[2015.39,0.17],[2015.41,0.20],[2015.44,0.25],[2015.47,0.30],[2015.51,0.40],[2015.54,0.36],[2015.56,0.45],[2015.59,0.57],[2015.61,0.48],[2015.63,0.35],[2015.66,0.30],[2015.69,0.25],[2015.72,0.50],[2015.74,0.30],[2015.77,0.26],[2015.81,0.23],[2015.89,0.19],[2015.96,0.16],[2016.04,0.13],[2016.07,0.12],[2016.11,0.11],[2016.14,0.10],[2016.17,0.09],[2016.20,0.08],[2016.22,0.49],[2016.24,0.30],[2016.27,0.24],[2016.30,0.18],[2016.34,0.16],[2016.36,0.13],[2016.39,0.25],[2016.41,0.40],[2016.44,0.29],[2016.46,0.30],[2016.49,0.26],[2016.51,0.35],[2016.54,0.45],[2016.56,0.61],[2016.59,0.60],[2016.61,0.42],[2016.64,0.35],[2016.66,0.38],[2016.69,0.30],[2016.71,0.56],[2016.74,0.38],[2016.76,0.32],[2016.81,0.25],[2016.86,0.21],[2016.91,0.18],[2016.96,0.16],[2017.00,0.14]];
var ccF = [[2011.01,0.08],[2011.05,0.07],[2011.06,0.60],[2011.08,0.62],[2011.09,0.42],[2011.12,0.18],[2011.15,0.13],[2011.18,0.40],[2011.20,0.20],[2011.22,0.22],[2011.25,0.30],[2011.28,0.20],[2011.31,0.18],[2011.32,0.42],[2011.35,0.58],[2011.38,0.40],[2011.40,0.50],[2011.43,0.36],[2011.45,0.48],[2011.48,0.38],[2011.50,0.36],[2011.53,0.46],[2011.55,0.32],[2011.59,0.26],[2011.62,0.23],[2011.66,0.19],[2011.70,0.14],[2011.75,0.12],[2011.78,0.43],[2011.80,0.28],[2011.84,0.16],[2011.89,0.12],[2011.94,0.11],[2011.96,0.10],[2011.98,0.28],[2012.00,0.48],[2012.02,0.36],[2012.05,0.25],[2012.07,0.15],[2012.11,0.10],[2012.14,0.09],[2012.17,0.10],[2012.20,0.09],[2012.23,0.22],[2012.25,0.13],[2012.29,0.10],[2012.31,0.09],[2012.34,0.13],[2012.36,0.38],[2012.39,0.27],[2012.41,0.23],[2012.44,0.27],[2012.46,0.24],[2012.50,0.26],[2012.52,0.20],[2012.54,0.32],[2012.56,0.45],[2012.58,0.55],[2012.60,0.50],[2012.62,0.42],[2012.65,0.35],[2012.68,0.30],[2012.69,0.26],[2012.71,0.50],[2012.74,0.28],[2012.77,0.22],[2012.81,0.15],[2012.87,0.12],[2012.96,0.09],[2013.06,0.07],[2013.16,0.05],[2013.26,0.04],[2013.29,0.04],[2013.30,0.26],[2013.33,0.17],[2013.35,0.28],[2013.37,0.26],[2013.40,0.40],[2013.43,0.30],[2013.45,0.42],[2013.47,0.50],[2013.49,0.38],[2013.51,0.30],[2013.53,0.36],[2013.56,0.28],[2013.59,0.23],[2013.62,0.28],[2013.65,0.30],[2013.67,0.24],[2013.70,0.27],[2013.72,0.40],[2013.75,0.23],[2013.78,0.18],[2013.81,0.15],[2013.85,0.19],[2013.88,0.13],[2013.91,0.11],[2013.94,0.14],[2013.96,0.10],[2014.00,0.08],[2014.04,0.06],[2014.09,0.05],[2014.16,0.04],[2014.20,0.06],[2014.24,0.05],[2014.27,0.05],[2014.29,0.50],[2014.31,0.18],[2014.34,0.15],[2014.36,0.13],[2014.39,0.16],[2014.41,0.14],[2014.44,0.38],[2014.46,0.30],[2014.49,0.38],[2014.51,0.27],[2014.53,0.45],[2014.55,0.26],[2014.58,0.23],[2014.60,0.20],[2014.63,0.32],[2014.65,0.21],[2014.67,0.26],[2014.70,0.33],[2014.72,0.20],[2014.76,0.17],[2014.81,0.14],[2014.89,0.10],[2014.96,0.07],[2015.06,0.06],[2015.14,0.05],[2015.16,0.17],[2015.19,0.08],[2015.24,0.15],[2015.27,0.12],[2015.30,0.30],[2015.32,0.22],[2015.34,0.25],[2015.36,0.33],[2015.39,0.35],[2015.41,0.45],[2015.44,0.23],[2015.47,0.27],[2015.51,0.36],[2015.54,0.33],[2015.56,0.40],[2015.59,0.48],[2015.61,0.40],[2015.63,0.30],[2015.66,0.23],[2015.69,0.19],[2015.72,0.34],[2015.74,0.22],[2015.77,0.18],[2015.81,0.15],[2015.89,0.12],[2015.96,0.10],[2016.04,0.08],[2016.07,0.08],[2016.11,0.14],[2016.14,0.08],[2016.17,0.06],[2016.20,0.06],[2016.22,0.45],[2016.24,0.28],[2016.27,0.22],[2016.30,0.17],[2016.34,0.14],[2016.36,0.11],[2016.39,0.20],[2016.41,0.30],[2016.44,0.25],[2016.46,0.27],[2016.49,0.23],[2016.51,0.30],[2016.54,0.37],[2016.56,0.45],[2016.59,0.45],[2016.61,0.33],[2016.64,0.30],[2016.66,0.27],[2016.69,0.22],[2016.71,0.38],[2016.74,0.28],[2016.76,0.23],[2016.81,0.17],[2016.86,0.13],[2016.91,0.12],[2016.96,0.10],[2017.00,0.09]];
var obsF = [[2014.68,0.251],[2014.79,0.220],[2014.85,0.267],[2015.15,0.170],[2015.26,0.251],[2015.35,0.188],[2015.44,0.251],[2015.49,0.170],[2015.56,0.232],[2015.66,0.568],[2015.74,0.696],[2015.81,0.276],[2015.90,0.204],[2016.01,0.183],[2016.10,0.157],[2016.15,0.194],[2016.26,0.296],[2016.35,0.269],[2016.44,0.321],[2016.50,0.225],[2016.58,0.157],[2016.65,0.377],[2016.74,0.209],[2016.83,0.168],[2016.91,0.147]];
var calF = [[2002.51,0.487],[2002.60,0.417],[2002.70,0.437],[2002.78,0.306],[2002.85,0.138],[2002.93,0.091],[2003.06,0.075],[2003.10,0.091],[2003.21,0.050],[2003.26,0.070],[2003.36,0.091],[2003.78,0.097],[2003.92,0.071],[2004.07,0.220],[2004.19,0.437],[2004.27,0.541],[2004.35,0.468],[2004.43,0.560],[2004.64,0.573],[2004.81,0.419],[2004.89,0.321],[2004.93,0.288],[2005.11,0.349],[2005.20,0.147],[2005.27,0.207],[2005.43,0.288],[2005.56,0.342],[2005.66,0.264],[2005.88,0.363],[2005.93,0.264]];
var valF = [[2006.04,0.128],[2006.17,0.149],[2006.23,0.395],[2006.26,0.419],[2006.48,0.424],[2006.53,0.275],[2006.58,0.586],[2006.72,0.194],[2006.78,0.143],[2006.85,0.168],[2006.95,0.173],[2007.05,0.091],[2007.23,0.152],[2007.31,0.139],[2007.41,0.070],[2007.48,0.070],[2007.53,0.319],[2007.61,0.560],[2007.67,0.066],[2007.80,0.110],[2008.05,0.129],[2008.35,0.066],[2008.35,0.292],[2008.44,0.164],[2010.77,0.208],[2010.94,0.123]];

var FONT = 'Liberation Serif';

var dom = document.getElementById('chart');
// layout was measured on the 4406 x 3681 reference; stretch it over the real canvas
var kx = dom.clientWidth / 4406, ky = dom.clientHeight / 3681, kf = Math.sqrt(kx * ky);
function sx(v) { return v * kx; }
function sy(v) { return v * ky; }
function sf(v) { return v * kf; }

var panels = [
    {tag:'(d)', top:70,   height:998,  max:10,  interval:1,    luc:lucD, cc:ccD, obs:obsD, cal:calD, val:valD,
     fmt:function (v) { return v % 2 === 0 ? String(v) : ''; }},
    {tag:'(e)', top:1170, height:983,  max:1,   interval:0.25, luc:lucE, cc:ccE, obs:obsE, cal:calE, val:valE,
     fmt:function (v) { return v.toFixed(2); }},
    {tag:'(f)', top:2252, height:1032, max:1.5, interval:0.25, luc:lucF, cc:ccF, obs:obsF, cal:calF, val:valF,
     fmt:function (v) { return Math.abs(v * 2 - Math.round(v * 2)) < 1e-6 ? v.toFixed(1) : ''; }}
];

var grids = [], xAxes = [], yAxes = [], series = [], graphics = [];

panels.forEach(function (p, i) {
    grids.push({left:sx(343), width:sx(4017), top:sy(p.top), height:sy(p.height), show:true,
        borderColor:'#000', borderWidth:sf(5), backgroundColor:'transparent', outerBoundsMode:'none'});
    // yearly ticks, labels on the bottom panel only
    xAxes.push({type:'value', gridIndex:i, min:2002, max:2017, interval:1, position:'bottom',
        axisLine:{show:true, onZero:false, lineStyle:{color:'#000', width:sf(6)}},
        axisTick:{show:true, length:sy(15), lineStyle:{color:'#000', width:sf(4)}},
        axisLabel:{show:i === 2, margin:sy(52), fontSize:sf(75), fontFamily:FONT, color:'#000',
            formatter:function (v) { return v % 2 === 0 ? '1/01/' + v : ''; }},
        splitLine:{show:false}});
    // longer ticks every two years
    xAxes.push({type:'value', gridIndex:i, min:2002, max:2017, interval:2, position:'bottom', offset:0,
        axisLine:{show:false, onZero:false},
        axisTick:{show:true, length:sy(27), lineStyle:{color:'#000', width:sf(4)}},
        axisLabel:{show:false}, splitLine:{show:false}});
    yAxes.push({type:'value', gridIndex:i, min:0, max:p.max, interval:p.interval, position:'left',
        axisLine:{show:true, onZero:false, lineStyle:{color:'#000', width:sf(6)}},
        axisTick:{show:true, length:sx(15), lineStyle:{color:'#000', width:sf(4)}},
        axisLabel:{margin:sx(66), fontSize:sf(72), fontFamily:FONT, color:'#000', formatter:p.fmt},
        splitLine:{show:false},
        name:'{t|TN  (kg day}{s|-1}{t|)}', nameLocation:'middle', nameRotate:90, nameGap:sx(228),
        nameTextStyle:{rich:{
            t:{fontSize:sf(75), fontFamily:FONT, color:'#000'},
            s:{fontSize:sf(48), fontFamily:FONT, color:'#000', verticalAlign:'top'}
        }}});

    var xi = i * 2;
    series.push({name:'CC0', type:'line', xAxisIndex:xi, yAxisIndex:i, data:p.cc,
        symbol:'none', showSymbol:false, z:2, color:'#c00000',
        lineStyle:{color:'#c00000', width:sf(3)}});
    series.push({name:'LUC0', type:'line', xAxisIndex:xi, yAxisIndex:i, data:p.luc,
        symbol:'none', showSymbol:false, z:3, color:'#000',
        lineStyle:{color:'#000', width:sf(3)}});
    series.push({name:'Obs. post 2011', type:'scatter', xAxisIndex:xi, yAxisIndex:i, data:p.obs,
        symbol:'circle', symbolSize:sf(32), z:4,
        itemStyle:{color:'#fff', borderColor:'#000', borderWidth:sf(3.5), opacity:1}});
    series.push({name:'Cal', type:'scatter', xAxisIndex:xi, yAxisIndex:i, data:p.cal,
        symbol:'circle', symbolSize:sf(32), z:4,
        itemStyle:{color:'#ff0000', borderColor:'#000', borderWidth:sf(2.5), opacity:1}});
    series.push({name:'Val', type:'scatter', xAxisIndex:xi, yAxisIndex:i, data:p.val,
        symbol:'circle', symbolSize:sf(32), z:4,
        itemStyle:{color:'#000', borderColor:'#000', borderWidth:sf(2), opacity:1}});

    graphics.push({type:'text', left:sx(382), top:sy(p.top + 38),
        style:{text:p.tag, font:sf(75) + 'px "Liberation Serif"', fill:'#000'}});
});

// future-period date axis under the plot
grids.push({left:sx(2788), width:sx(1572), top:sy(3470), height:sy(54), show:false, outerBoundsMode:'none'});
xAxes.push({type:'value', gridIndex:3, min:2094, max:2100, interval:1, position:'bottom',
    axisLine:{show:true, onZero:false, lineStyle:{color:'#000', width:sf(7)}},
    axisTick:{show:true, length:sy(15), lineStyle:{color:'#000', width:sf(4)}},
    axisLabel:{margin:sy(47), fontSize:sf(75), fontFamily:FONT, color:'#000',
        formatter:function (v) { return (v % 2 === 0 && v < 2100) ? '01/01/' + v : ''; }},
    splitLine:{show:false}});
xAxes.push({type:'value', gridIndex:3, min:2094, max:2100, interval:2, position:'bottom', offset:0,
    axisLine:{show:false, onZero:false},
    axisTick:{show:true, length:sy(27), lineStyle:{color:'#000', width:sf(4)}},
    axisLabel:{show:false}, splitLine:{show:false}});
yAxes.push({type:'value', gridIndex:3, min:0, max:1, show:false});

graphics.push({type:'text', x:sx(2172), y:sy(3612),
    style:{text:'Date', font:sf(75) + 'px "Liberation Serif"', fill:'#000', align:'center', verticalAlign:'middle'}});

function legendItem(name, left, opts) {
    var o = {data:[name], left:sx(left), top:sy(104), padding:0, itemGap:0,
        textStyle:{fontSize:sf(75), fontFamily:FONT, color:'#000', lineHeight:sy(84), padding:[0, 0, 0, sx(opts.gap)]},
        itemWidth:sx(opts.w), itemHeight:sf(opts.h), selectedMode:false};
    if (opts.icon) o.icon = opts.icon;
    return o;
}

var option = {
    animation:false,
    backgroundColor:'#fff',
    grid:grids,
    xAxis:xAxes,
    yAxis:yAxes,
    legend:[
        legendItem('CC0', 586, {icon:'rect', w:84, h:4, gap:24}),
        legendItem('LUC0', 975, {icon:'rect', w:84, h:4, gap:22}),
        legendItem('Obs. post 2011', 1440, {w:32, h:32, gap:30}),
        legendItem('Cal', 2149, {w:32, h:32, gap:52}),
        legendItem('Val', 2500, {w:32, h:32, gap:50})
    ],
    graphic:graphics,
    series:series
};

var chart = echarts.init(dom);
chart.setOption(option);
</script>
</body>
</html>
